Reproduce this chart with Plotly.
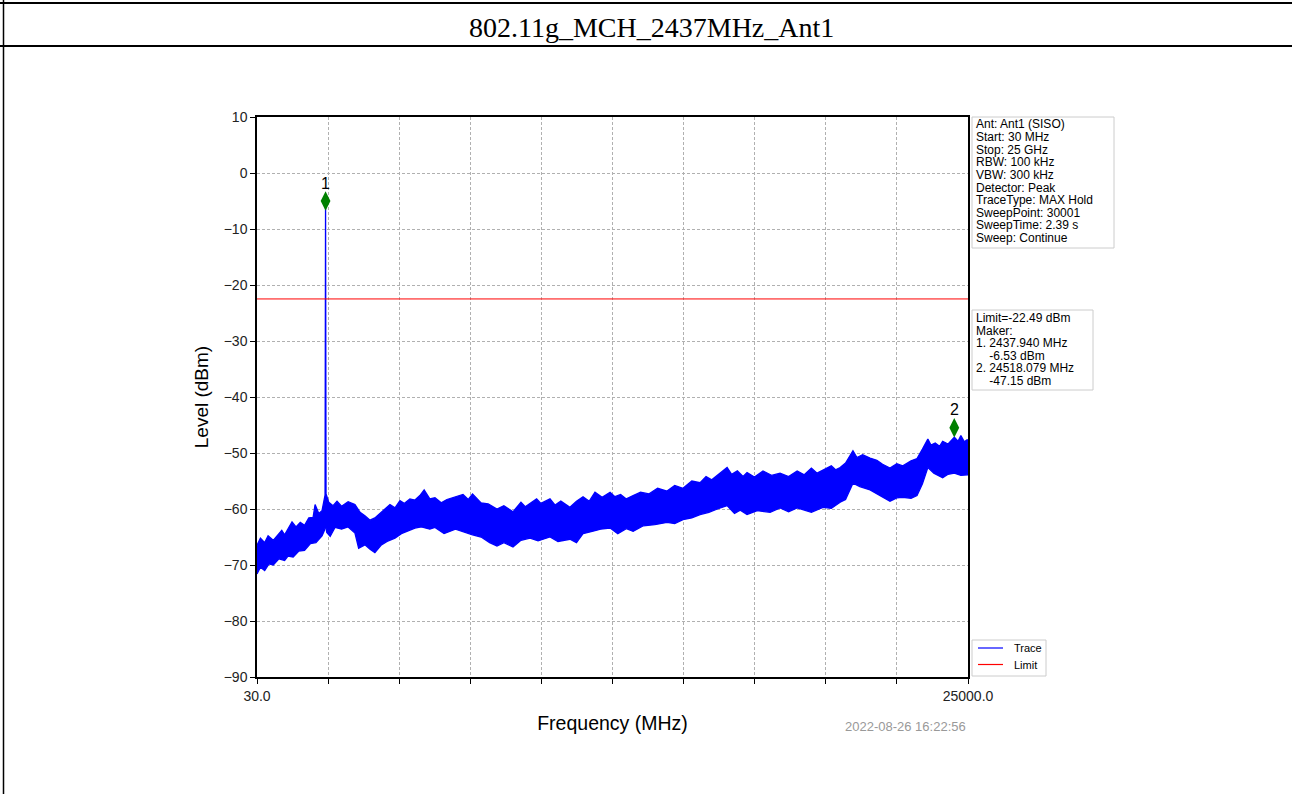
import plotly.graph_objects as go

# ---------------- data ----------------
upper_freq = [30, 150, 300, 420, 600, 750, 900, 1000, 1119, 1260, 1400, 1550, 1700, 1850, 2000,
              2070, 2200, 2313, 2420, 2437.94, 2455, 2550, 2700, 2840, 3000, 3230, 3470, 3650,
              3820, 4000, 4170, 4350, 4500, 4700, 4876, 5050, 5200, 5400, 5578, 5750, 5900, 6100,
              6280, 6500, 6700, 6950, 7265, 7450, 7600, 7900, 8150, 8458, 8700, 9020, 9300, 9450,
              9620, 9850, 10000, 10320, 10500, 10700, 11020, 11250, 11480, 11700, 11900, 12150,
              12430, 12600, 12800, 13000, 13240, 13500, 13800, 14100, 14430, 14700, 14990, 15300,
              15590, 15800, 16000, 16300, 16540, 16700, 16900, 17100, 17240, 17500, 17800, 18100,
              18400, 18700, 19000, 19250, 19500, 19700, 19910, 20200, 20350, 20510, 20700, 20800,
              20960, 21100, 21300, 21560, 21800, 22000, 22260, 22500, 22710, 23000, 23210, 23400,
              23590, 23700, 23850, 24000, 24110, 24300, 24520, 24650, 24750, 24870, 24980]
upper_level = [-66.5, -65.2, -66.0, -64.8, -65.6, -64.6, -63.8, -64.6, -63.5, -62.3, -63.2, -62.4,
               -62.9, -61.6, -61.5, -59.2, -60.8, -60.3, -57.5, -5.0, -57.3, -58.8, -59.4, -58.6,
               -59.5, -58.7, -59.2, -60.6, -61.2, -62.0, -61.6, -60.8, -60.2, -59.2, -59.8, -58.5,
               -59.0, -58.2, -58.4, -57.6, -56.6, -58.2, -58.0, -58.9, -58.3, -57.9, -57.4, -58.3,
               -57.3, -58.9, -59.1, -60.0, -59.4, -60.5, -58.8, -59.6, -59.0, -58.2, -59.0, -58.2,
               -59.3, -58.6, -59.7, -58.6, -57.8, -58.6, -57.0, -57.9, -57.0, -57.8, -57.4, -58.2,
               -57.6, -57.0, -57.3, -56.3, -56.8, -55.8, -56.3, -55.0, -55.3, -54.2, -54.8, -53.6,
               -52.6, -53.8, -53.2, -54.2, -53.5, -54.3, -53.2, -54.0, -53.6, -54.2, -53.2, -53.9,
               -52.7, -53.6, -53.0, -52.3, -53.0, -52.6, -51.8, -51.0, -49.6, -50.8, -50.3, -50.9,
               -51.3, -52.0, -52.7, -51.9, -52.3, -51.4, -51.0, -49.3, -47.5, -48.6, -48.2, -48.8,
               -47.9, -48.4, -47.2, -47.9, -46.9, -48.0, -47.6]

lower_freq = [30, 150, 300, 450, 600, 800, 1000, 1119, 1300, 1500, 1700, 1900, 2100, 2313, 2400,
              2437.94, 2480, 2600, 2770, 3000, 3230, 3470, 3600, 3820, 4000, 4170, 4400, 4600,
              4876, 5100, 5350, 5578, 5800, 6100, 6280, 6600, 7000, 7265, 7600, 7900, 8200, 8458,
              8700, 9020, 9300, 9620, 9900, 10320, 10600, 11020, 11250, 11480, 11800, 12100,
              12430, 12700, 13000, 13240, 13600, 14000, 14430, 14700, 14990, 15300, 15590, 15900,
              16200, 16540, 16800, 17000, 17240, 17600, 18050, 18400, 18700, 19000, 19500, 19910,
              20200, 20510, 20700, 20960, 21200, 21560, 21900, 22260, 22500, 22710, 23000, 23210,
              23400, 23590, 23800, 24110, 24300, 24520, 24750, 24980]
lower_level = [-71.6, -70.4, -71.0, -69.8, -70.0, -68.9, -69.2, -68.4, -68.6, -67.5, -67.4, -66.2,
               -66.0, -64.8, -63.8, -62.8, -64.2, -64.9, -63.3, -63.6, -63.2, -64.3, -67.0, -66.4,
               -67.2, -67.8, -66.4, -65.8, -65.2, -64.4, -63.9, -63.4, -63.2, -63.6, -63.3, -64.4,
               -63.6, -64.0, -64.6, -65.0, -66.0, -66.6, -66.0, -66.8, -65.6, -65.2, -65.7, -65.0,
               -65.8, -65.4, -66.0, -64.4, -64.0, -63.6, -63.4, -64.4, -63.5, -64.0, -63.0, -62.8,
               -62.4, -62.6, -61.9, -61.6, -61.0, -60.6, -60.0, -59.4, -60.8, -60.2, -61.0, -60.3,
               -60.6, -59.8, -60.5, -59.8, -60.6, -59.7, -59.9, -58.8, -58.3, -55.4, -56.0, -56.6,
               -57.6, -58.6, -58.0, -57.9, -58.1, -57.6, -55.5, -52.6, -53.6, -54.4, -53.8, -53.6,
               -54.0, -53.9]

limit_level = -22.49
freq_start, freq_stop = 30.0, 25000.0

marker_freq = [2437.94, 24518.079]
marker_level = [-5.0, -45.5]
marker_labels = ["1", "2"]

y_ticks = [10, 0, -10, -20, -30, -40, -50, -60, -70, -80, -90]
x_tick_labels = ["30.0", "", "", "", "", "", "", "", "", "", "25000.0"]

info_lines = ["Ant: Ant1 (SISO)", "Start: 30 MHz", "Stop: 25 GHz", "RBW: 100 kHz",
              "VBW: 300 kHz", "Detector: Peak", "TraceType: MAX Hold", "SweepPoint: 30001",
              "SweepTime: 2.39 s", "Sweep: Continue"]
marker_lines = ["Limit=-22.49 dBm", "Maker:", "1. 2437.940 MHz", "    -6.53 dBm",
                "2. 24518.079 MHz", "    -47.15 dBm"]
legend_names = ["Trace", "Limit"]
legend_colors = ["#0000ff", "#ff0000"]

title_text = "802.11g_MCH_2437MHz_Ant1"
timestamp = "2022-08-26 16:22:56"

# ---------------- layout geometry (pixels) ----------------
W, H = 1292, 794
PL, PR, PT, PB = 257, 968, 117, 677
pw, ph = PR - PL, PB - PT


def px(xp):
    return (xp - PL) / pw


def py(yp):
    return (PB - yp) / ph


FONT = "Liberation Sans, Arial, sans-serif"
x_ticks = [freq_start + i * (freq_stop - freq_start) / 10 for i in range(11)]

fig = go.Figure()

# noise band (envelope of the max-hold trace)
band_x = upper_freq + lower_freq[::-1]
band_y = upper_level + lower_level[::-1]
fig.add_trace(go.Scatter(x=band_x, y=band_y, mode="lines", fill="toself", name="Trace",
                         fillcolor="#0000ff", line=dict(color="#0000ff", width=1.3),
                         showlegend=False, hoverinfo="skip"))
fig.add_trace(go.Scatter(x=[freq_start, freq_stop], y=[limit_level, limit_level], mode="lines",
                         name="Limit", line=dict(color="#ff0000", width=1), showlegend=False))
# markers
fig.add_trace(go.Scatter(x=marker_freq, y=marker_level, mode="markers",
                         marker=dict(symbol="diamond-tall", size=14, color="#008000"),
                         showlegend=False))

shapes = []
annotations = []

# marker labels just above the diamonds
for f, lv, lb in zip(marker_freq, marker_level, marker_labels):
    annotations.append(dict(text=lb, x=f, y=lv, xref="x", yref="y", yshift=18,
                            xanchor="center", yanchor="middle", showarrow=False,
                            font=dict(family=FONT, size=16, color="black")))

# outer report frame
shapes.append(dict(type="line", xref="paper", yref="paper", x0=px(0), x1=px(W), y0=py(3), y1=py(3),
                   line=dict(color="black", width=2)))
shapes.append(dict(type="line", xref="paper", yref="paper", x0=px(0), x1=px(W), y0=py(46), y1=py(46),
                   line=dict(color="black", width=2)))
shapes.append(dict(type="line", xref="paper", yref="paper", x0=px(3.5), x1=px(3.5), y0=py(0), y1=py(H),
                   line=dict(color="black", width=1.5)))

annotations.append(dict(text=title_text, xref="paper", yref="paper", x=px(651), y=py(28),
                        xanchor="center", yanchor="middle", showarrow=False,
                        font=dict(family="Liberation Serif, Times New Roman, serif", size=28,
                                  color="black")))

# info box 1
shapes.append(dict(type="rect", xref="paper", yref="paper", x0=px(972), x1=px(1114), y0=py(117),
                   y1=py(248), line=dict(color="#cccccc", width=1), fillcolor="white"))
for i, t in enumerate(info_lines):
    annotations.append(dict(text=t, xref="paper", yref="paper", x=px(975), y=py(124.5 + i * 12.6),
                            xanchor="left", yanchor="middle", showarrow=False, borderpad=0,
                            font=dict(family=FONT, size=12, color="black")))
# info box 2
shapes.append(dict(type="rect", xref="paper", yref="paper", x0=px(972), x1=px(1093), y0=py(310),
                   y1=py(390), line=dict(color="#cccccc", width=1), fillcolor="white"))
for i, t in enumerate(marker_lines):
    annotations.append(dict(text=t.replace(" ", "&nbsp;") if t.startswith(" ") else t,
                            xref="paper", yref="paper", x=px(975), y=py(318 + i * 12.6),
                            xanchor="left", yanchor="middle", showarrow=False, borderpad=0,
                            font=dict(family=FONT, size=12, color="black")))

# legend box (drawn to match the reference's compact matplotlib legend)
shapes.append(dict(type="rect", xref="paper", yref="paper", x0=px(972), x1=px(1046), y0=py(640),
                   y1=py(676), line=dict(color="#cccccc", width=1), fillcolor="white"))
for i, (nm, col) in enumerate(zip(legend_names, legend_colors)):
    yy = 648 + i * 16.5
    shapes.append(dict(type="line", xref="paper", yref="paper", x0=px(978), x1=px(1003),
                       y0=py(yy), y1=py(yy), line=dict(color=col, width=1.2)))
    annotations.append(dict(text=nm, xref="paper", yref="paper", x=px(1012), y=py(yy),
                            xanchor="left", yanchor="middle", showarrow=False,
                            font=dict(family=FONT, size=11, color="black")))

annotations.append(dict(text=timestamp, xref="paper", yref="paper", x=px(968), y=py(726),
                        xanchor="right", yanchor="middle", showarrow=False,
                        font=dict(family=FONT, size=13, color="#999999")))

axis_common = dict(showgrid=True, gridcolor="#b0b0b0", gridwidth=0.8, griddash="3px,2px",
                   showline=True, linecolor="black", linewidth=1.5, mirror=True,
                   ticks="outside", ticklen=5, tickwidth=1.2, tickcolor="black",
                   zeroline=False,
                   tickfont=dict(family=FONT, size=14, color="#222222"))

fig.update_layout(
    width=W, height=H,
    margin=dict(l=PL, r=W - PR, t=PT, b=H - PB),
    paper_bgcolor="white", plot_bgcolor="white",
    xaxis=dict(range=[freq_start, freq_stop], tickvals=x_ticks, ticktext=x_tick_labels,
               title=dict(text="Frequency (MHz)", standoff=14,
                          font=dict(family=FONT, size=19.5, color="black")),
               **axis_common),
    yaxis=dict(range=[-90, 10], tickvals=y_ticks,
               ticktext=[("\u2212" + str(-v)) if v < 0 else str(v) for v in y_ticks],
               title=dict(text="Level (dBm)", standoff=10,
                          font=dict(family=FONT, size=19, color="black")),
               **axis_common),
    shapes=shapes, annotations=annotations,
    showlegend=False,
)

fig.write_html("out.html", config={"displayModeBar": False},
               post_script="document.body.style.margin='0px';document.body.style.padding='0px';")
